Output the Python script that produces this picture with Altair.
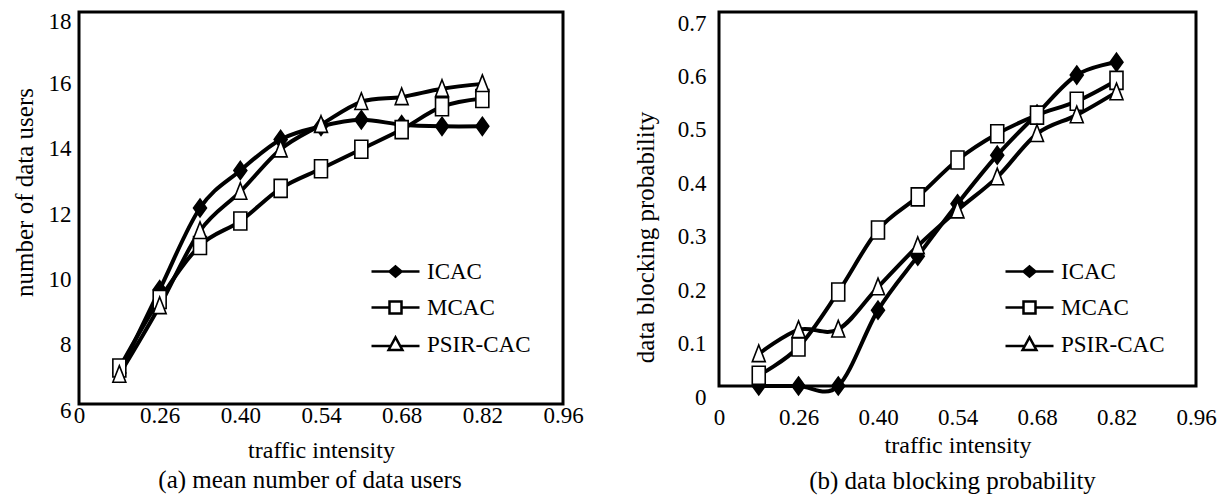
import altair as alt
import pandas as pd

# ---------------- data ----------------
traffic = [0.19, 0.26, 0.33, 0.40, 0.47, 0.54, 0.61, 0.68, 0.75, 0.82]
series_names = ["ICAC", "MCAC", "PSIR-CAC"]
x_tick_values = [0.12, 0.26, 0.40, 0.54, 0.68, 0.82, 0.96]

users_icac = [6.95, 9.5, 12.0, 13.15, 14.1, 14.5, 14.7, 14.55, 14.5, 14.5]
users_mcac = [7.1, 9.2, 10.85, 11.6, 12.6, 13.2, 13.8, 14.4, 15.1, 15.35]
users_psir = [6.9, 9.0, 11.3, 12.5, 13.8, 14.55, 15.25, 15.4, 15.65, 15.8]
users_ticks = [6, 8, 10, 12, 14, 16, 18]

block_icac = [0.0, 0.0, 0.0, 0.142, 0.243, 0.341, 0.432, 0.509, 0.582, 0.606]
block_mcac = [0.02, 0.073, 0.176, 0.292, 0.354, 0.423, 0.472, 0.507, 0.533, 0.572]
block_psir = [0.06, 0.105, 0.106, 0.185, 0.262, 0.329, 0.391, 0.472, 0.507, 0.55]
block_ticks = [0.0, 0.1, 0.2, 0.3, 0.4, 0.5, 0.6, 0.7]

FONT = "Liberation Serif"

# marker shapes (tall markers in plot, line+marker glyphs in legend)
plot_paths = [
    "M0,-1L0.72,0L0,1L-0.72,0Z",
    "M-0.72,-1H0.72V1H-0.72Z",
    "M0,-1L0.72,0.85H-0.72Z",
]
legend_paths = [
    "M-4,0H4M0,-0.85L1,0L0,0.85L-1,0Z",
    "M-4,0H-1M1,0H4M-1,-1H1V1H-1Z",
    "M-4,0.25H-0.9M0.9,0.25H4M0,-1.2L1.15,0.9H-1.15Z",
]
fill_range = ["black", "white", "white"]
stroke_range = ["black", "black", "black"]


def long_df(a, b, c):
    rows = []
    for name, vals in zip(series_names, [a, b, c]):
        for t, v in zip(traffic, vals):
            rows.append({"traffic": t, "value": v, "series": name})
    return pd.DataFrame(rows)


def panel(df, ydomain, yticks, ylabel_expr, ytitle, caption, w, h,
          xlabpad, xtitley, ylabpad, ylaboff, ytitlex, ytitley,
          legx, legy, capdx, capoff):
    x = alt.X(
        "traffic:Q",
        scale=alt.Scale(domain=[0.12, 0.96], nice=False, zero=False),
        axis=alt.Axis(
            values=x_tick_values,
            labelExpr="datum.value < 0.2 ? '0' : format(datum.value, '.2f')",
            title="traffic intensity",
            labelPadding=xlabpad,
            titleY=xtitley,
            titleBaseline="alphabetic",
            titleFontSize=24,
        ),
    )
    y = alt.Y(
        "value:Q",
        scale=alt.Scale(domain=ydomain, nice=False, zero=False),
        axis=alt.Axis(
            values=yticks,
            labelExpr=ylabel_expr,
            title=ytitle,
            labelPadding=ylabpad,
            labelOffset=ylaboff,
            titleX=ytitlex,
            titleY=ytitley,
            titleBaseline="alphabetic",
            titleFontSize=25,
        ),
    )
    base = alt.Chart(df)
    lines = base.mark_line(
        interpolate="cardinal", color="black", strokeWidth=4
    ).encode(x=x, y=y, detail="series:N")
    points = base.mark_point(
        filled=True, size=324, stroke="black", strokeWidth=1.6, opacity=1
    ).encode(
        x=x,
        y=y,
        shape=alt.Shape("series:N",
                        scale=alt.Scale(domain=series_names, range=plot_paths),
                        legend=None),
        fill=alt.Fill("series:N",
                      scale=alt.Scale(domain=series_names, range=fill_range),
                      legend=None),
    )
    leg = alt.Legend(
        title=None, orient="none", legendX=legx, legendY=legy,
        labelFont=FONT, labelFontSize=23, labelColor="black",
        symbolSize=144, symbolStrokeColor="black", symbolStrokeWidth=2.5,
        labelOffset=20, rowPadding=12, symbolOpacity=1,
    )
    legend_layer = base.transform_filter("false").mark_point(
        filled=False, stroke="black", strokeWidth=2.5, opacity=1
    ).encode(
        x=x,
        y=y,
        shape=alt.Shape("series:N",
                        scale=alt.Scale(domain=series_names, range=legend_paths),
                        legend=leg),
        fill=alt.Fill("series:N",
                      scale=alt.Scale(domain=series_names, range=fill_range),
                      legend=leg),
        stroke=alt.Stroke("series:N",
                          scale=alt.Scale(domain=series_names, range=stroke_range),
                          legend=leg),
    )
    return alt.layer(lines, points, legend_layer).resolve_scale(
        shape="independent", fill="independent", stroke="independent"
    ).properties(
        width=w, height=h,
        title=alt.TitleParams(caption, orient="bottom", frame="group",
                              font=FONT, fontSize=25, fontWeight="normal",
                              color="black", dx=capdx, offset=capoff),
    )


left = panel(long_df(users_icac, users_mcac, users_psir), [6, 18], users_ticks,
             "format(datum.value, 'd')", "number of data users",
             "(a) mean number of data users", 484, 392,
             0, 53,
             8, {"condition": {"test": "datum.value == 18", "value": 9}, "value": 6},
             -47, 180, 305, 248, -11, 6)
right = panel(long_df(block_icac, block_mcac, block_psir), [0, 0.7], block_ticks,
              "datum.value == 0 ? '0' : format(datum.value, '.1f')",
              "data blocking probability",
              "(b) data blocking probability", 477, 374,
              20, 66, 13, 11, -66, 225, 299, 248, -5, 12)

chart = alt.hconcat(left, right, spacing=156, bounds="flush").resolve_scale(
    x="independent", y="independent", shape="independent", fill="independent",
    stroke="independent"
).resolve_legend(shape="independent", fill="independent", stroke="independent").properties(
    padding={"left": 2, "top": 0, "right": 0, "bottom": 0},
    background="white",
).configure_view(
    stroke="black", strokeWidth=3
).configure_axis(
    grid=False, ticks=False, domain=False,
    labelFont=FONT, labelFontSize=23, labelColor="black",
    titleFont=FONT, titleFontWeight="normal", titleColor="black",
    labelFlush=False, labelOverlap=False, labelBound=False,
)

chart.save("out.html", embed_options={"renderer": "svg", "actions": False})
